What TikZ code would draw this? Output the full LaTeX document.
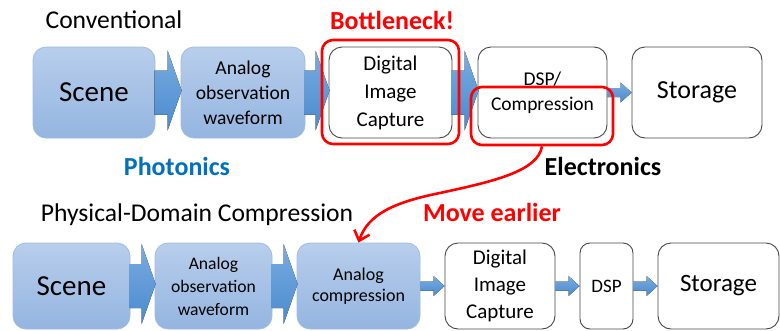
\documentclass[tikz,border=0pt]{standalone}
\usepackage{fontspec}
\setmainfont{Carlito}
\usetikzlibrary{calc,arrows.meta}
\definecolor{boxtop}{RGB}{184,206,236}
\definecolor{boxbot}{RGB}{148,181,224}
\definecolor{boxline}{RGB}{160,188,226}
\definecolor{boxgray}{RGB}{70,70,70}
\definecolor{arrtop}{RGB}{122,172,224}
\definecolor{arrbot}{RGB}{74,138,206}
\definecolor{hired}{RGB}{255,0,0}
\definecolor{photoblue}{RGB}{0,112,192}

\begin{document}
\begin{tikzpicture}[x=1pt,y=-1pt,
 bluebox/.style={draw=boxline,line width=0.8pt,rounded corners=13pt,top color=boxtop,bottom color=boxbot,inner sep=0pt,align=center},
 whitebox/.style={draw=boxgray,line width=0.9pt,fill=white,rounded corners=13pt,inner sep=0pt,align=center},
 redbox/.style={draw=hired,line width=2.6pt,rounded corners=11pt,inner sep=0pt},
 arrfill/.style={top color=arrtop,bottom color=arrbot,draw=none},
 redlabel/.style={text=hired,font=\bfseries\fontsize{26}{30}\selectfont}]
 \useasboundingbox (0,0) rectangle (780,330);
 % top row: conventional chain
 \node[bluebox,minimum width=122pt,minimum height=91pt,font=\fontsize{29}{34}\selectfont] (s1) at (94,92.5) {Scene};
 \node[bluebox,minimum width=124pt,minimum height=91pt,font=\fontsize{19.6}{25}\selectfont] (a1) at (243,92.5) {Analog\\observation\\waveform};
 \node[whitebox,minimum width=123pt,minimum height=91pt,font=\fontsize{21}{28}\selectfont] (d1) at (390.5,92.5) {Digital\\Image\\Capture};
 \node[whitebox,minimum width=129pt,minimum height=91pt,font=\fontsize{19.5}{25}\selectfont] (p1) at (542.5,92.5) {DSP/\\Compression};
 \node[whitebox,minimum width=130pt,minimum height=91pt,font=\fontsize{26}{30}\selectfont] (st1) at (697,92.5) {Storage};
 % bottom row: physical-domain compression chain
 \node[bluebox,minimum width=117pt,minimum height=86pt,font=\fontsize{29}{34}\selectfont] (s2) at (71.5,286) {Scene};
 \node[bluebox,minimum width=117pt,minimum height=86pt,font=\fontsize{17.6}{23}\selectfont] (a2) at (213.5,286) {\raisebox{-2pt}{Analog}\\\raisebox{-2pt}{observation}\\\raisebox{-2pt}{waveform}};
 \node[bluebox,minimum width=123pt,minimum height=86pt,font=\fontsize{18}{21}\selectfont] (acomp) at (358.5,286) {\raisebox{-3pt}{Analog}\\\raisebox{-3pt}{compression}};
 \node[whitebox,minimum width=110pt,minimum height=86pt,font=\fontsize{21}{27}\selectfont] (d2) at (500,286) {\raisebox{-3pt}{Digital}\\\raisebox{-3pt}{Image}\\\raisebox{-3pt}{Capture}};
 \node[whitebox,minimum width=53pt,minimum height=86pt,rounded corners=10pt,font=\fontsize{19}{22}\selectfont] (p2) at (606.5,286) {DSP};
 \node[whitebox,minimum width=121pt,minimum height=86pt,font=\fontsize{25}{30}\selectfont] (st2) at (718.5,286) {\raisebox{-2pt}{Storage}};
 % wide block arrows
 \foreach \a/\b in {s1/a1,a1/d1,d1/p1,s2/a2,a2/acomp} {
  \fill[arrfill] ($(\a.east)+(-1,-22)$) -- ($(\b.west)+(-13,-22)$) -- ($(\b.west)+(-13,-42)$) -- ($(\b.west)+(1,-2)$)
   -- ($(\b.west)+(-13,38)$) -- ($(\b.west)+(-13,22)$) -- ($(\a.east)+(-1,22)$) -- cycle;
 }
 % thin arrows
 \foreach \a/\b in {p1/st1,acomp/d2,d2/p2,p2/st2} {
  \fill[arrfill] ($(\a.east)+(0,-4.5)$) -- ($(\b.west)+(-11,-4.5)$) -- ($(\b.west)+(-11,-10)$) -- (\b.west)
   -- ($(\b.west)+(-11,10)$) -- ($(\b.west)+(-11,4.5)$) -- ($(\a.east)+(0,4.5)$) -- cycle;
 }
 % highlights
 \node[redbox,minimum width=137pt,minimum height=104pt] (bn) at (390.5,92) {};
 \node[redbox,minimum width=142pt,minimum height=58pt] (hl) at (542,116) {};
 \draw[hired,line width=2.6pt,-{Straight Barb[length=9pt,width=16pt,line width=2.6pt]}] (hl.south) .. controls (538,172) and (490,182) .. (440,193) .. controls (395,202) and (368,214) .. (acomp.north);
 % labels
 \node[font=\fontsize{25.6}{30}\selectfont] (conv) at (114,20) {Conventional};
 \node[redlabel] (bntxt) at (392,20) {Bottleneck!};
 \node[text=photoblue,font=\bfseries\fontsize{26}{30}\selectfont] (pho) at (177,166) {Photonics};
 \node[font=\bfseries\fontsize{26}{30}\selectfont] (ele) at (603,166) {Electronics};
 \node[font=\fontsize{25.6}{30}\selectfont] (pdc) at (197,215) {Physical-Domain Compression};
 \node[redlabel] (mv) at (492,212) {Move earlier};
\end{tikzpicture}
\end{document}
